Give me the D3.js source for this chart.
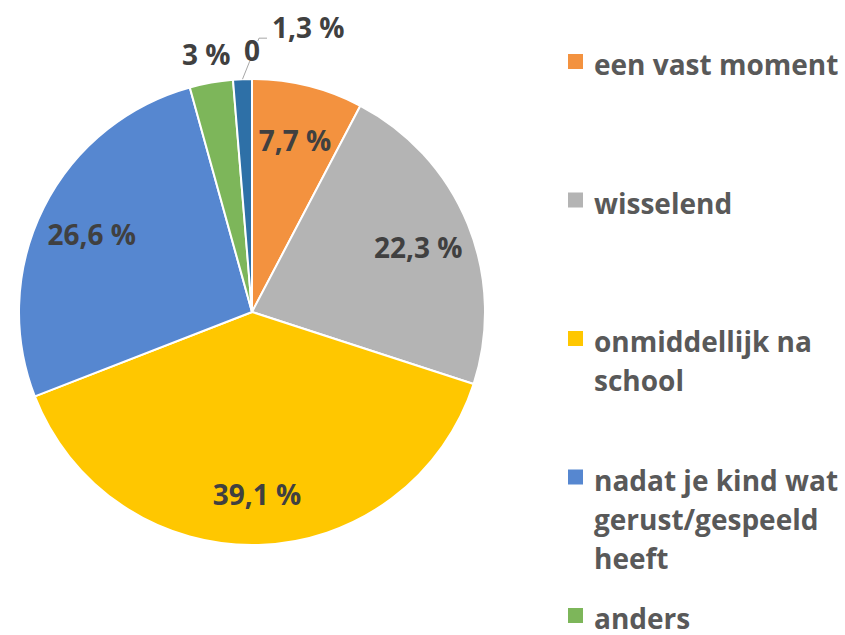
<!DOCTYPE html>
<html>
<head>
<meta charset="utf-8">
<script src="https://cdn.jsdelivr.net/npm/d3@7"></script>
<style>
  html, body { margin: 0; padding: 0; background: #fff; }
  svg { display: block; }
  text { font-family: "Open Sans", "Liberation Sans", sans-serif; font-weight: 700; }
</style>
</head>
<body>
<svg id="chart" width="845" height="635"></svg>
<script>
// ---- data ----
const sliceNames = ["", "een vast moment", "wisselend", "onmiddellijk na school",
  "nadat je kind wat gerust/gespeeld heeft", "anders", ""];
const sliceValues = [0, 7.7, 22.3, 39.1, 26.6, 3, 1.3];
const sliceColors = ["#5B9BD5", "#F3923F", "#B4B4B4", "#FFC700", "#5687D0", "#7DB65A", "#2E70A7"];
const legendNames = ["een vast moment", "wisselend", "onmiddellijk na school",
  "nadat je kind wat gerust/gespeeld heeft", "anders"];

const fmt = v => v === 0 ? "0" : String(v).replace(".", ",") + " %";

const svg = d3.select("#chart");
const cx = 252, cy = 312, R = 233;

const data = sliceValues.map((v, i) => ({ name: sliceNames[i], value: v, color: sliceColors[i], i }));
const pie = d3.pie().sort(null).value(d => d.value).startAngle(0).endAngle(2 * Math.PI);
const arcs = pie(data);
const arc = d3.arc().innerRadius(0).outerRadius(R);
const inLabelArc = d3.arc().innerRadius(R * 0.77).outerRadius(R * 0.77);
const outLabelArc = d3.arc().innerRadius(R * 1.12).outerRadius(R * 1.12);
const edgeArc = d3.arc().innerRadius(R).outerRadius(R);

const g = svg.append("g").attr("transform", `translate(${cx},${cy})`);

g.selectAll("path.slice")
  .data(arcs.filter(a => a.data.value > 0))
  .join("path")
  .attr("class", "slice")
  .attr("d", arc)
  .attr("fill", d => d.data.color)
  .attr("stroke", "#fff")
  .attr("stroke-width", 2)
  .attr("stroke-linejoin", "round");

// inside labels
const labelSize = 28;
g.selectAll("text.inlabel")
  .data(arcs.filter(a => a.data.value >= 5))
  .join("text")
  .attr("class", "inlabel")
  .attr("transform", d => `translate(${inLabelArc.centroid(d)})`)
  .attr("text-anchor", "middle")
  .attr("dy", "0.48em")
  .attr("font-size", labelSize)
  .attr("fill", "#404040")
  .text(d => fmt(d.data.value));

// outside labels with simple collision avoidance
const lineLayer = g.append("g");
const bgLayer = g.append("g");
const outLayer = g.append("g");
const placed = [];
arcs.filter(a => a.data.value < 5).forEach(d => {
  const [x, y] = outLabelArc.centroid(d);
  const t = outLayer.append("text")
    .attr("text-anchor", "middle")
    .attr("dy", "0.36em")
    .attr("font-size", labelSize)
    .attr("fill", "#404040")
    .attr("x", x).attr("y", y)
    .text(fmt(d.data.value));
  let bb = t.node().getBBox();
  const hit = placed.find(p => !(bb.x > p.bb.x + p.bb.width || bb.x + bb.width < p.bb.x ||
                                   bb.y > p.bb.y + p.bb.height || bb.y + bb.height < p.bb.y));
  let moved = false;
  if (hit) {
    moved = true;
    const ny = hit.y - labelSize * 0.82;
    t.attr("text-anchor", "start").attr("x", hit.bb.x + hit.bb.width + 12).attr("y", ny);
    bb = t.node().getBBox();
    const baseY = ny + labelSize * 0.36;
    const [ex, ey] = edgeArc.centroid(d);
    lineLayer.append("polyline")
      .attr("points", [[ex, ey], [bb.x - 13, baseY], [bb.x - 5, baseY]].map(p => p.join(",")).join(" "))
      .attr("fill", "none")
      .attr("stroke", "#A6A6A6")
      .attr("stroke-width", 1);
  }
  if (!moved) {
    // small knock-out behind the glyphs so leader lines pass under the label
    bgLayer.append("rect")
      .attr("x", bb.x + 1).attr("y", y - labelSize * 0.36)
      .attr("width", bb.width - 2).attr("height", labelSize * 0.72)
      .attr("fill", "#fff");
  }
  placed.push({ x: +t.attr("x"), y: +t.attr("y"), bb });
});

// legend
const legendSize = 28, lineH = 39, maxW = 250;
const legY = d3.scaleLinear().domain([0, 1]).range([75, 213.5]);
const legend = svg.append("g");
legendNames.forEach((name, i) => {
  const color = sliceColors[sliceNames.indexOf(name)];
  const by = legY(i);
  legend.append("rect")
    .attr("x", 568).attr("y", by - 21)
    .attr("width", 15).attr("height", 15)
    .attr("fill", color);
  const t = legend.append("text")
    .attr("x", 594).attr("y", by)
    .attr("font-size", legendSize)
    .attr("fill", "#595959");
  // word wrap
  const words = name.split(" ");
  let line = [], lineNo = 0;
  let ts = t.append("tspan").attr("x", 594).attr("y", by);
  words.forEach(w => {
    line.push(w);
    ts.text(line.join(" "));
    if (ts.node().getComputedTextLength() > maxW && line.length > 1) {
      line.pop();
      ts.text(line.join(" "));
      line = [w];
      lineNo++;
      ts = t.append("tspan").attr("x", 594).attr("y", by + lineNo * lineH).text(w);
    }
  });
});
</script>
</body>
</html>
